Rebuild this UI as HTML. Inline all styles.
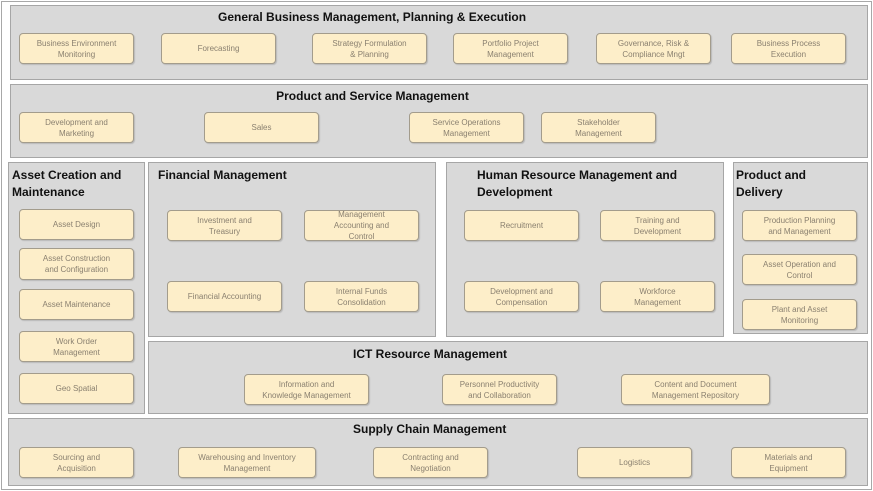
<!DOCTYPE html>
<html><head><meta charset="utf-8"><style>
*{margin:0;padding:0;box-sizing:border-box}
body{width:873px;height:491px;background:#fff;position:relative;overflow:hidden;font-family:"Liberation Sans",sans-serif}
#frame{position:absolute;left:1px;top:1px;width:871px;height:489px;border:1px solid #a8a8a8}
.p{position:absolute;background:#d9d9d9;border:1px solid #a6a6a6}
.t{position:absolute;font-weight:bold;font-size:12px;color:#111;line-height:17px;white-space:nowrap}
.b{position:absolute;background:#fdeec9;border:1.5px solid #a39c8c;border-radius:4px;display:flex;align-items:center;justify-content:center;text-align:center;font-size:8px;line-height:11px;color:#8a8070;box-shadow:1px 1px 1px rgba(0,0,0,0.15)}
</style></head><body>
<div id="frame"></div>

<div class="p" style="left:10px;top:5px;width:858px;height:75px"></div>
<div class="t" style="left:218px;top:9px">General Business Management, Planning &amp; Execution</div>
<div class="b" style="left:19px;top:33px;width:115px;height:31px">Business Environment<br>Monitoring</div>
<div class="b" style="left:161px;top:33px;width:115px;height:31px">Forecasting</div>
<div class="b" style="left:312px;top:33px;width:115px;height:31px">Strategy Formulation<br>&amp; Planning</div>
<div class="b" style="left:453px;top:33px;width:115px;height:31px">Portfolio Project<br>Management</div>
<div class="b" style="left:596px;top:33px;width:115px;height:31px">Governance, Risk &amp;<br>Compliance Mngt</div>
<div class="b" style="left:731px;top:33px;width:115px;height:31px">Business Process<br>Execution</div>

<div class="p" style="left:10px;top:84px;width:858px;height:74px"></div>
<div class="t" style="left:0;width:745px;text-align:center;top:88px">Product and Service Management</div>
<div class="b" style="left:19px;top:112px;width:115px;height:31px">Development and<br>Marketing</div>
<div class="b" style="left:204px;top:112px;width:115px;height:31px">Sales</div>
<div class="b" style="left:409px;top:112px;width:115px;height:31px">Service Operations<br>Management</div>
<div class="b" style="left:541px;top:112px;width:115px;height:31px">Stakeholder<br>Management</div>

<div class="p" style="left:8px;top:162px;width:137px;height:252px"></div>
<div class="t" style="left:12px;top:167px">Asset Creation and<br>Maintenance</div>
<div class="b" style="left:19px;top:209px;width:115px;height:31px">Asset Design</div>
<div class="b" style="left:19px;top:248px;width:115px;height:32px">Asset Construction<br>and Configuration</div>
<div class="b" style="left:19px;top:289px;width:115px;height:31px">Asset Maintenance</div>
<div class="b" style="left:19px;top:331px;width:115px;height:31px">Work Order<br>Management</div>
<div class="b" style="left:19px;top:373px;width:115px;height:31px">Geo Spatial</div>

<div class="p" style="left:148px;top:162px;width:288px;height:175px"></div>
<div class="t" style="left:158px;top:167px">Financial Management</div>
<div class="b" style="left:167px;top:210px;width:115px;height:31px">Investment and<br>Treasury</div>
<div class="b" style="left:304px;top:210px;width:115px;height:31px">Management<br>Accounting and<br>Control</div>
<div class="b" style="left:167px;top:281px;width:115px;height:31px">Financial Accounting</div>
<div class="b" style="left:304px;top:281px;width:115px;height:31px">Internal Funds<br>Consolidation</div>

<div class="p" style="left:446px;top:162px;width:278px;height:175px"></div>
<div class="t" style="left:477px;top:167px">Human Resource Management and<br>Development</div>
<div class="b" style="left:464px;top:210px;width:115px;height:31px">Recruitment</div>
<div class="b" style="left:600px;top:210px;width:115px;height:31px">Training and<br>Development</div>
<div class="b" style="left:464px;top:281px;width:115px;height:31px">Development and<br>Compensation</div>
<div class="b" style="left:600px;top:281px;width:115px;height:31px">Workforce<br>Management</div>

<div class="p" style="left:733px;top:162px;width:135px;height:172px"></div>
<div class="t" style="left:736px;top:167px">Product and<br>Delivery</div>
<div class="b" style="left:742px;top:210px;width:115px;height:31px">Production Planning<br>and Management</div>
<div class="b" style="left:742px;top:254px;width:115px;height:31px">Asset Operation and<br>Control</div>
<div class="b" style="left:742px;top:299px;width:115px;height:31px">Plant and Asset<br>Monitoring</div>

<div class="p" style="left:148px;top:341px;width:720px;height:73px"></div>
<div class="t" style="left:353px;top:346px">ICT Resource Management</div>
<div class="b" style="left:244px;top:374px;width:125px;height:31px">Information and<br>Knowledge Management</div>
<div class="b" style="left:442px;top:374px;width:115px;height:31px">Personnel Productivity<br>and Collaboration</div>
<div class="b" style="left:621px;top:374px;width:149px;height:31px">Content and Document<br>Management Repository</div>

<div class="p" style="left:8px;top:418px;width:860px;height:68px"></div>
<div class="t" style="left:353px;top:421px">Supply Chain Management</div>
<div class="b" style="left:19px;top:447px;width:115px;height:31px">Sourcing and<br>Acquisition</div>
<div class="b" style="left:178px;top:447px;width:138px;height:31px">Warehousing and Inventory<br>Management</div>
<div class="b" style="left:373px;top:447px;width:115px;height:31px">Contracting and<br>Negotiation</div>
<div class="b" style="left:577px;top:447px;width:115px;height:31px">Logistics</div>
<div class="b" style="left:731px;top:447px;width:115px;height:31px">Materials and<br>Equipment</div>
</body></html>
